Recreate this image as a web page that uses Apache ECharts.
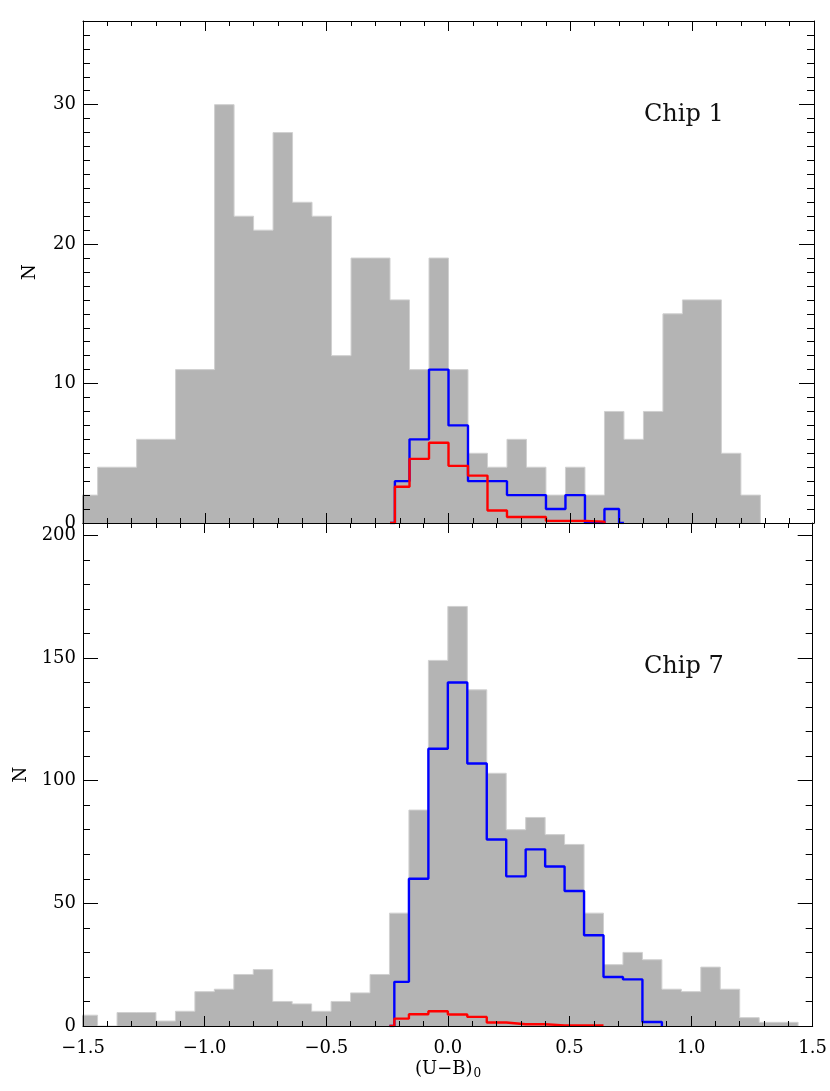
<!DOCTYPE html>
<html>
<head>
<meta charset="utf-8">
<script src="https://cdn.jsdelivr.net/npm/echarts@6/dist/echarts.min.js"></script>
<style>
  html, body { margin: 0; padding: 0; background: #fff; }
  #main { width: 830px; height: 1091px; }
</style>
</head>
<body>
<div id="main"></div>
<script>
// histogram bins (width 0.08, first bin starts at -1.52)
var binWidth = 0.08;
var binStart = -1.52;

// grey histograms, counts per bin
var chip1Counts = [2, 4, 4, 6, 6, 11, 11, 30, 22, 21, 28, 23, 22, 12, 19, 19, 16, 11, 19, 11,
  5, 4, 6, 4, 2, 4, 2, 8, 6, 8, 15, 16, 16, 5, 2];
var chip7Counts = [4.4, 0, 5.5, 5.5, 2, 6, 14, 15, 21, 23, 10, 9, 6, 10, 13.5, 21, 46, 88, 149, 171,
  137, 103, 80, 85, 78, 74, 46, 25, 30, 27, 15, 14, 24, 15, 3.4, 1.5, 1.5];

// step-line histograms: bin edges and counts
var lineEdges = [-0.24, -0.22, -0.16, -0.08, 0, 0.08, 0.16, 0.24, 0.32, 0.40, 0.48, 0.56, 0.64, 0.70, 0.72, 0.80, 0.88];
var chip1Blue = [0, 3, 6, 11, 7, 3, 3, 2, 2, 1, 2, 0, 1, 0];
var chip1Red = [0, 2.6, 4.6, 5.75, 4.1, 3.4, 0.9, 0.43, 0.43, 0.15, 0.15, 0.1];
var chip7Edges = [-0.24, -0.22, -0.16, -0.08, 0, 0.08, 0.16, 0.24, 0.32, 0.40, 0.48, 0.56, 0.64, 0.72, 0.80, 0.88];
var chip7Blue = [0, 18, 60, 113, 140, 107, 76, 61, 72, 65, 55, 37, 20, 19, 1.6];
var chip7Red = [0, 3, 4.8, 6, 4.7, 3.7, 1.4, 0.7, 0.7, 0.25, 0.25, 0.2];

var xTicks = [-1.5, 1.5, 0.5];      // min, max, interval
var chip1Y = [0, 36, 10, 1];        // min, max, major, minor
var chip7Y = [0, 205, 50, 10];

function binEdges(counts) {
  var e = [];
  for (var i = 0; i <= counts.length; i++) e.push(+(binStart + i * binWidth).toFixed(4));
  return e;
}
function steps(edges, counts) {
  var pts = [[edges[0], 0]];
  for (var i = 0; i < counts.length; i++) {
    pts.push([edges[i], counts[i]]);
    pts.push([edges[i + 1], counts[i]]);
  }
  pts.push([edges[counts.length], 0]);
  return pts;
}

var chartDom = document.getElementById('main');
var myChart = echarts.init(chartDom);

var font = 'DejaVu Serif';
var axisColor = '#000';

function xAxis(grid, pos, labels) {
  return {
    type: 'value', gridIndex: grid, position: pos,
    min: xTicks[0], max: xTicks[1], interval: xTicks[2],
    z: 10,
    axisLine: { show: true, onZero: false, lineStyle: { color: axisColor, width: 1 } },
    axisTick: { show: true, inside: true, length: 10, lineStyle: { color: axisColor } },
    minorTick: { show: true, splitNumber: 5, length: 5, lineStyle: { color: axisColor } },
    splitLine: { show: false },
    axisLabel: {
      show: labels, margin: 13, fontFamily: font, fontSize: 18, color: '#000',
      showMinLabel: true, showMaxLabel: true,
      formatter: function (v) { return v.toFixed(1).replace('-', '\u2212'); }
    }
  };
}
function yAxis(grid, pos, r, major, labels, name) {
  return {
    type: 'value', gridIndex: grid, position: pos,
    min: r[0], max: r[1], interval: major ? r[2] : r[3],
    z: 10,
    name: name || '', nameLocation: 'middle', nameGap: 44,
    nameTextStyle: { fontFamily: font, fontSize: 18, color: '#000' },
    axisLine: { show: major, onZero: false, lineStyle: { color: axisColor, width: 1 } },
    axisTick: { show: true, inside: true, length: major ? 15 : 7, lineStyle: { color: axisColor } },
    splitLine: { show: false },
    axisLabel: {
      show: labels, margin: 7, fontFamily: font, fontSize: 18, color: '#000',
      showMaxLabel: false,
      formatter: function (v) { return v % r[2] === 0 ? String(v) : ''; }
    }
  };
}

function areaSeries(counts, xi, yi) {
  return {
    type: 'line', xAxisIndex: xi, yAxisIndex: yi, z: 1,
    data: steps(binEdges(counts), counts), showSymbol: false, symbol: 'none',
    lineStyle: { color: '#d0d0d0', width: 1 },
    areaStyle: { color: '#b4b4b4', opacity: 1 },
    silent: true
  };
}
function lineSeries(data, xi, yi, color, z) {
  return {
    type: 'line', xAxisIndex: xi, yAxisIndex: yi, z: z,
    data: data, showSymbol: false, symbol: 'none',
    lineStyle: { color: color, width: 2.4 },
    silent: true
  };
}

var option = {
  animation: false,
  backgroundColor: '#fff',
  grid: [
    { left: 83, top: 21, width: 731, height: 502 },
    { left: 83, top: 523, width: 731, height: 503 }
  ],
  xAxis: [
    xAxis(0, 'bottom', false),
    xAxis(0, 'top', false),
    xAxis(1, 'bottom', true),
    xAxis(1, 'top', false)
  ],
  yAxis: [
    yAxis(0, 'left', chip1Y, true, true, 'N'),
    yAxis(0, 'left', chip1Y, false, false),
    yAxis(0, 'right', chip1Y, true, false),
    yAxis(0, 'right', chip1Y, false, false),
    yAxis(1, 'left', chip7Y, true, true, 'N'),
    yAxis(1, 'left', chip7Y, false, false),
    yAxis(1, 'right', chip7Y, true, false),
    yAxis(1, 'right', chip7Y, false, false)
  ],
  series: [
    areaSeries(chip1Counts, 0, 0),
    lineSeries(steps(lineEdges, chip1Blue), 0, 0, '#0000ff', 3),
    lineSeries(steps(lineEdges, chip1Red), 0, 0, '#ff0000', 4),
    areaSeries(chip7Counts, 2, 4),
    lineSeries(steps(chip7Edges, chip7Blue), 2, 4, '#0000ff', 3),
    lineSeries(steps(chip7Edges, chip7Red), 2, 4, '#ff0000', 4)
  ],
  graphic: [
    { type: 'text', left: 644, top: 103, style: { text: 'Chip 1', font: '24px "DejaVu Serif"', fill: '#111' } },
    { type: 'text', left: 644, top: 655, style: { text: 'Chip 7', font: '24px "DejaVu Serif"', fill: '#111' } },
    {
      type: 'text', left: 415, top: 1060,
      style: {
        text: '{a|(U\u2212B)}{s|0}',
        rich: {
          a: { fontFamily: font, fontSize: 18, lineHeight: 22, fill: '#000' },
          s: { fontFamily: font, fontSize: 12, lineHeight: 12, verticalAlign: 'bottom', fill: '#000', padding: [0, 0, 0, 1] }
        }
      }
    }
  ]
};

option && myChart.setOption(option);
window.addEventListener('resize', function () { myChart.resize(); });
</script>
</body>
</html>
